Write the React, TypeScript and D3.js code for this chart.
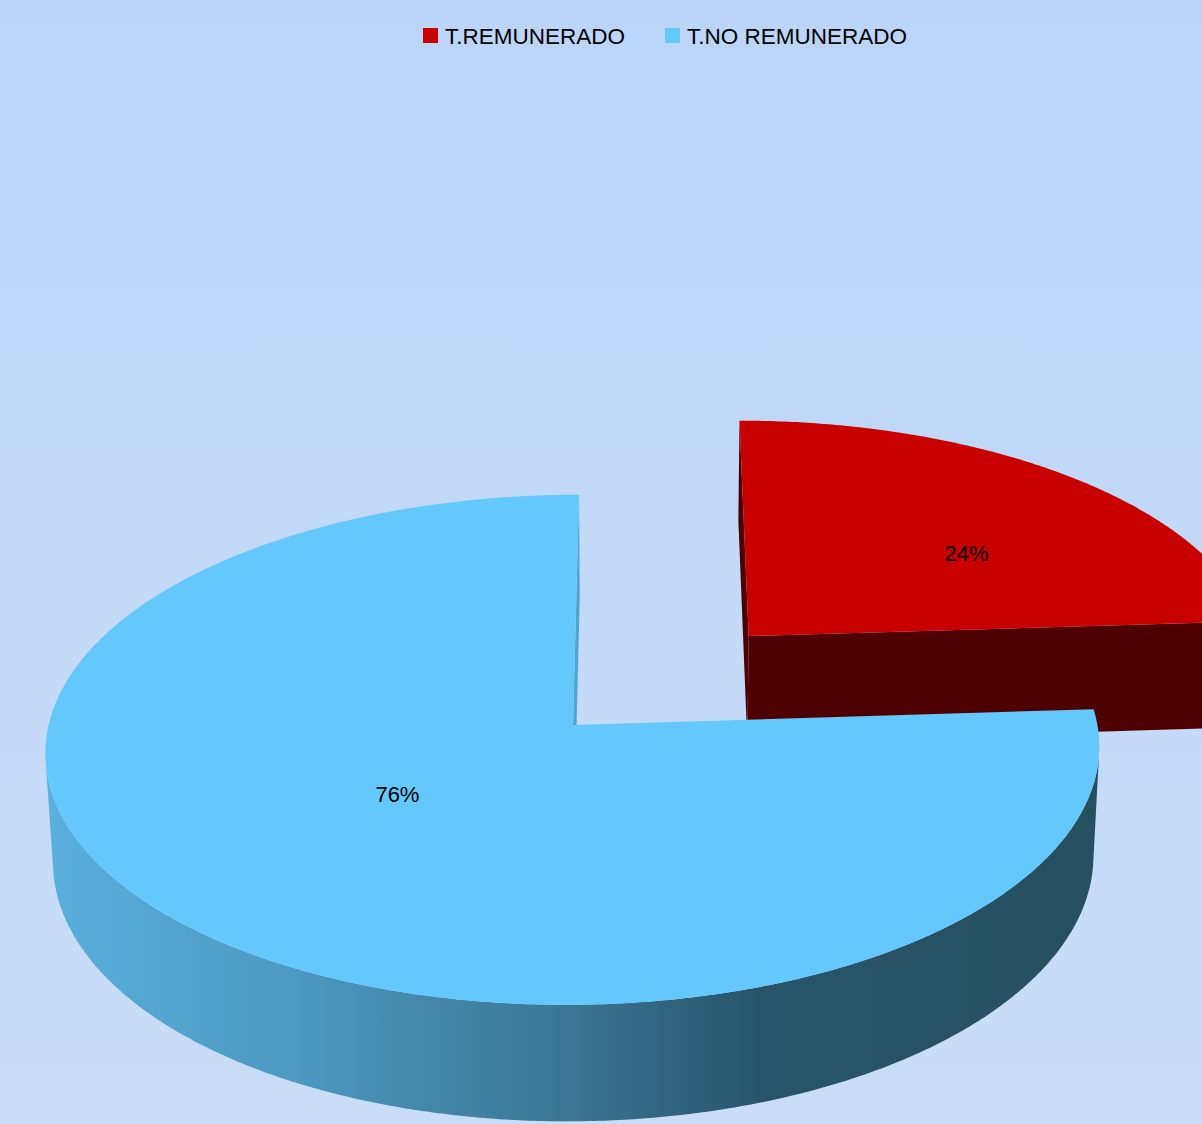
import React from 'react';
import * as d3 from 'd3';

// chart data
const categories = ['T.REMUNERADO', 'T.NO REMUNERADO'];
const values = [24, 76];
const labels = ['24%', '76%'];
const explode = [0.5, 0];
const topColors = ['#c80000', '#64c8fc'];
const faceColors = ['#4e0000', '#4fa5d2'];

const W = 1202, H = 1124;

// camera / perspective setup (pie radius = 1)
const tilt = 28.8 * Math.PI / 180;
const dist = 9.02;
const focal = 4730;
const camX = 0.13;
const depth = 0.24;
const apex = [573, 725];
const px = apex[0] + focal * camX / dist;
const py = apex[1];
const camV = dist * Math.cos(tilt);

// label spot per slice: [radius, angle shift in degrees]
const labelSpot = [[0.58, 8], [0.42, 7]];

function project(p) {
  let [u, v, h] = p;
  let z = dist - v * Math.cos(tilt) - h * Math.sin(tilt);
  return [px + focal * (u - camX) / z, py + focal * (v * Math.sin(tilt) - h * Math.cos(tilt)) / z];
}

const line = d3.line().x(d => d[0]).y(d => d[1]);
const poly = pts => line(pts.map(project)) + 'Z';

function buildSlices() {
  let arcs = d3.pie().sort(null).startAngle(0).endAngle(2 * Math.PI)(values);
  return arcs.map((a, i) => {
    let s = a.startAngle, e = a.endAngle, mid = (s + e) / 2;
    let ox = explode[i] * Math.sin(mid), oy = -explode[i] * Math.cos(mid);
    let pt = (t, r, h) => [ox + r * Math.sin(t), oy - r * Math.cos(t), h];
    let n = Math.ceil((e - s) / (Math.PI / 360));
    let angles = d3.range(n + 1).map(k => s + (e - s) * k / n);

    let top = [pt(0, 0, 0)].concat(angles.map(t => pt(t, 1, 0)));

    // outer wall, only the parts that face the camera
    let walls = [], run = [];
    for (let t of angles) {
      let p = pt(t, 1, 0);
      let dot = Math.sin(t) * (camX - p[0]) - Math.cos(t) * (camV - p[1]);
      if (dot > 0) run.push(t);
      else if (run.length) { walls.push(run); run = []; }
    }
    if (run.length) walls.push(run);
    walls = walls.filter(r => r.length > 1).map(r =>
      r.map(t => pt(t, 1, 0)).concat(r.slice().reverse().map(t => pt(t, 1, -depth))));

    // radial cut faces
    let faces = [];
    let ax = ox, ay = oy;
    let sN = [-Math.cos(s), -Math.sin(s)], eN = [Math.cos(e), Math.sin(e)];
    if (sN[0] * (camX - ax) + sN[1] * (camV - ay) > 0)
      faces.push([pt(0, 0, 0), pt(s, 1, 0), pt(s, 1, -depth), pt(0, 0, -depth)]);
    if (eN[0] * (camX - ax) + eN[1] * (camV - ay) > 0)
      faces.push([pt(0, 0, 0), pt(e, 1, 0), pt(e, 1, -depth), pt(0, 0, -depth)]);

    let [lr, ls] = labelSpot[i];
    let lp = project(pt(mid + ls * Math.PI / 180, lr, 0));
    return { i, top, walls, faces, lp, far: oy };
  }).sort((a, b) => a.far - b.far);
}

export default function App() {
  const slices = buildSlices();
  const legendX = [423, 665];
  return (
    <div style={{ position: 'absolute', left: 0, top: 0 }}>
      <svg width={W} height={H} style={{ display: 'block' }}>
        <defs>
          <linearGradient id="bg" x1="0" y1="0" x2="0" y2="1">
            <stop offset="0" stopColor="#bbd5f8" />
            <stop offset="1" stopColor="#c9ddf8" />
          </linearGradient>
          <linearGradient id="wall1" gradientUnits="userSpaceOnUse" x1="45" y1="0" x2="1100" y2="0">
            <stop offset="0" stopColor="#5ab0de" />
            <stop offset="0.24" stopColor="#4c98c1" />
            <stop offset="0.48" stopColor="#3b7896" />
            <stop offset="0.68" stopColor="#28546b" />
            <stop offset="1" stopColor="#26505f" />
          </linearGradient>
          <linearGradient id="wall0" gradientUnits="userSpaceOnUse" x1="700" y1="0" x2="1202" y2="0">
            <stop offset="0" stopColor="#600000" />
            <stop offset="1" stopColor="#4a0000" />
          </linearGradient>
        </defs>
        <rect width={W} height={H} fill="url(#bg)" />
        {slices.map(sl => (
          <g key={sl.i}>
            {sl.walls.map((w, k) => <path key={'w' + k} d={poly(w)} fill={`url(#wall${sl.i})`} />)}
            {sl.faces.map((f, k) => <path key={'f' + k} d={poly(f)} fill={faceColors[sl.i]} />)}
            <path d={poly(sl.top)} fill={topColors[sl.i]} />
          </g>
        ))}
        {slices.map(sl => (
          <text key={'l' + sl.i} x={sl.lp[0]} y={sl.lp[1]} dy="0.35em" textAnchor="middle"
            fontFamily="Liberation Sans, Arial, sans-serif" fontSize={22} fill="#000">
            {labels[sl.i]}
          </text>
        ))}
        {categories.map((c, i) => (
          <g key={c} transform={`translate(${legendX[i]},28)`}>
            <rect width={15} height={15} fill={topColors[i]} />
            <text x={22} y={16} fontFamily="Liberation Sans, Arial, sans-serif" fontSize={22.5} fill="#000">{c}</text>
          </g>
        ))}
      </svg>
    </div>
  );
}
